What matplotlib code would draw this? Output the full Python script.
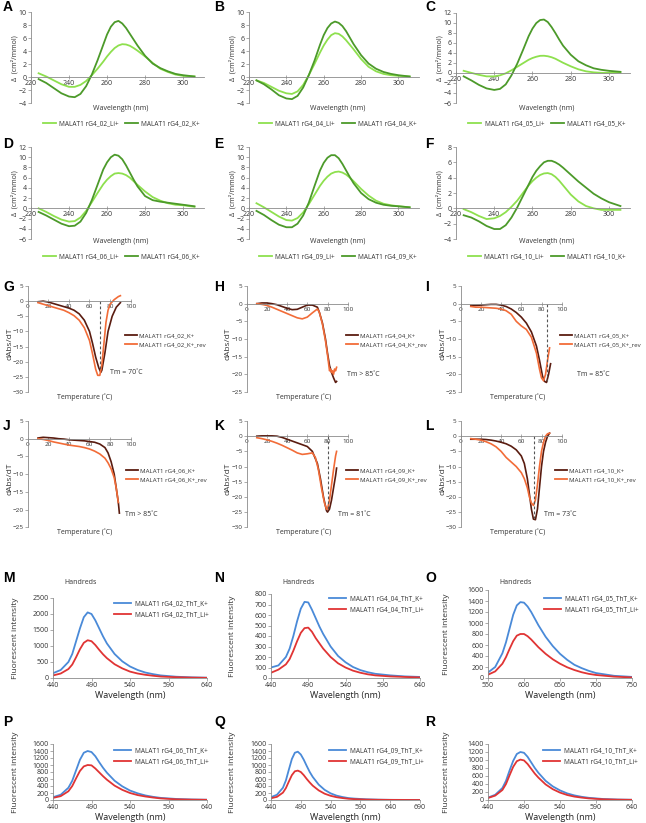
import matplotlib
matplotlib.use("Agg")
import matplotlib.pyplot as plt
from matplotlib.lines import Line2D

W, H = 646, 823
plt.rcParams['font.family'] = ['Open Sans', 'DejaVu Sans']

# ---------------- DATA ----------------
# CD spectra (panels A-F)
cd_wl = [224, 228, 232, 236, 240, 243, 246, 249, 252, 255, 258, 260, 262, 264, 266, 268, 270, 272, 274, 276,
         280, 284, 288, 292, 296, 300, 306]
cd_ids = ["02", "04", "05", "06", "09", "10"]
cd_li = {
    "02": [0.6, 0.1, -0.5, -1.1, -1.5, -1.5, -1.2, -0.6, 0.3, 1.3, 2.4, 3.2, 3.9, 4.5, 4.9, 5.1, 5.05, 4.85, 4.5, 4.1, 3.2, 2.2, 1.3, 0.8, 0.4, 0.2, 0.1],
    "04": [-0.5, -0.9, -1.5, -2.1, -2.5, -2.6, -2.2, -1.2, 0.3, 2.0, 3.8, 4.9, 5.8, 6.5, 6.8, 6.7, 6.3, 5.7, 5.0, 4.3, 2.8, 1.6, 0.9, 0.5, 0.3, 0.2, 0.1],
    "05": [0.4, 0.0, -0.4, -0.7, -0.7, -0.5, -0.1, 0.5, 1.2, 1.9, 2.6, 2.95, 3.2, 3.38, 3.4, 3.3, 3.1, 2.8, 2.4, 2.0, 1.3, 0.7, 0.3, 0.1, 0.0, 0.0, 0.1],
    "06": [0.0, -0.7, -1.5, -2.2, -2.6, -2.5, -1.8, -0.5, 1.2, 3.0, 4.7, 5.6, 6.3, 6.8, 6.9, 6.8, 6.5, 6.0, 5.3, 4.6, 3.3, 2.2, 1.5, 1.0, 0.7, 0.6, 0.3],
    "09": [1.0, 0.2, -0.7, -1.6, -2.3, -2.4, -1.9, -0.8, 0.8, 2.6, 4.4, 5.4, 6.2, 6.8, 7.1, 7.2, 7.0, 6.6, 6.0, 5.3, 3.8, 2.5, 1.5, 0.9, 0.6, 0.4, 0.2],
    "10": [-0.1, -0.5, -1.0, -1.4, -1.3, -1.0, -0.5, 0.2, 1.0, 2.0, 3.0, 3.55, 4.0, 4.35, 4.55, 4.6, 4.45, 4.1, 3.6, 3.0, 1.8, 0.9, 0.3, 0.0, -0.2, -0.2, -0.2],
}
cd_k = {
    "02": [-0.3, -0.9, -1.7, -2.5, -3.0, -3.1, -2.6, -1.4, 0.4, 2.6, 5.0, 6.6, 7.8, 8.5, 8.7, 8.3, 7.6, 6.7, 5.8, 4.9, 3.3, 2.1, 1.4, 0.9, 0.5, 0.3, 0.1],
    "04": [-0.5, -1.1, -1.9, -2.8, -3.3, -3.4, -2.9, -1.6, 0.3, 2.5, 5.0, 6.5, 7.6, 8.3, 8.6, 8.4, 7.9, 7.1, 6.1, 5.1, 3.4, 2.1, 1.3, 0.8, 0.5, 0.3, 0.1],
    "05": [-0.7, -1.5, -2.4, -3.1, -3.4, -3.2, -2.3, -0.5, 1.8, 4.5, 7.3, 8.8, 9.9, 10.5, 10.6, 10.1, 9.1, 7.9, 6.6, 5.4, 3.6, 2.3, 1.5, 0.9, 0.6, 0.4, 0.2],
    "06": [-0.7, -1.4, -2.2, -3.0, -3.5, -3.4, -2.6, -0.9, 1.6, 4.6, 7.6, 9.0, 10.0, 10.5, 10.3, 9.6, 8.4, 7.0, 5.6, 4.3, 2.4, 1.6, 1.3, 1.1, 0.9, 0.7, 0.4],
    "09": [-0.5, -1.3, -2.3, -3.2, -3.7, -3.7, -3.0, -1.4, 1.1, 4.3, 7.4, 8.9, 9.9, 10.4, 10.4, 9.8, 8.7, 7.4, 6.1, 4.9, 3.0, 1.8, 1.1, 0.7, 0.5, 0.4, 0.2],
    "10": [-0.9, -1.2, -1.7, -2.3, -2.7, -2.7, -2.2, -1.2, 0.1, 1.6, 3.1, 4.1, 4.9, 5.5, 6.0, 6.2, 6.2, 6.0, 5.7, 5.3, 4.4, 3.5, 2.7, 1.9, 1.3, 0.8, 0.3],
}
cd_ylims = {"02": (-4, 10), "04": (-4, 10), "05": (-6, 12), "06": (-6, 12), "09": (-6, 12), "10": (-4, 8)}
cd_xticks = [220, 240, 260, 280, 300]

# Melting derivative curves (panels G-L)
tm_T = {
    "02": [10, 15, 20, 25, 30, 35, 40, 45, 50, 55, 60, 63, 66, 69, 71, 72, 75, 78, 82, 86, 90],
    "04": [10, 15, 20, 25, 30, 35, 40, 45, 50, 55, 60, 65, 70, 72, 75, 78, 80, 82, 84, 86, 88, 89],
    "05": [10, 15, 20, 25, 30, 35, 40, 45, 50, 55, 60, 65, 70, 75, 78, 81, 83, 85, 87, 88, 89],
    "06": [10, 15, 20, 25, 30, 35, 40, 45, 50, 55, 60, 65, 70, 75, 78, 81, 84, 86, 88, 89],
    "09": [10, 15, 20, 25, 30, 35, 40, 45, 50, 55, 60, 65, 70, 73, 76, 79, 80, 82, 84, 86, 88, 89],
    "10": [10, 15, 20, 25, 30, 35, 40, 45, 50, 55, 60, 63, 66, 68, 70, 72, 74, 76, 78, 80, 82, 84, 86, 88],
}
tm_fwd = {
    "02": [-0.2, 0.0, -0.3, -0.8, -1.3, -1.8, -2.3, -3.0, -4.2, -6.3, -10.0, -14.0, -18.5, -22.0, -23.5, -22.8, -17.0, -10.0, -5.0, -2.0, -0.5],
    "04": [0.0, 0.2, 0.2, 0.0, -0.3, -0.8, -1.3, -1.7, -1.6, -1.0, -0.4, -0.4, -1.0, -2.5, -5.5, -10.0, -14.0, -17.5, -19.5, -21.0, -22.3, -22.0],
    "05": [-0.5, -0.5, -0.4, -0.3, -0.2, -0.2, -0.4, -0.8, -1.5, -2.5, -3.8, -5.5, -8.0, -12.0, -16.0, -20.5, -22.0, -22.3, -20.0, -18.5, -17.0],
    "06": [0.2, 0.4, 0.3, 0.2, 0.0, -0.1, -0.3, -0.4, -0.5, -0.6, -0.8, -1.0, -1.5, -2.5, -4.0, -6.5, -10.0, -14.0, -18.0, -21.0],
    "09": [0.0, 0.1, 0.1, 0.1, 0.0, -0.4, -1.0, -1.6, -2.2, -2.8, -3.4, -5.0, -9.0, -14.0, -20.0, -24.5, -25.0, -24.0, -21.0, -17.0, -13.0, -10.5],
    "10": [-1.0, -1.0, -1.0, -1.1, -1.3, -1.6, -2.0, -2.5, -3.3, -4.5, -6.5, -9.0, -14.0, -19.0, -24.0, -27.3, -27.5, -24.0, -17.0, -10.0, -5.0, -2.0, 0.0, 1.0],
}
tm_T_rev = {
    "02": [10, 15, 20, 25, 30, 35, 40, 45, 50, 55, 60, 63, 66, 68, 70, 72, 74, 76, 78, 80, 84, 88, 90],
    "04": [10, 15, 20, 25, 30, 35, 40, 45, 50, 55, 60, 65, 70, 72, 75, 78, 80, 82, 83, 84, 85, 86, 87, 88, 89],
    "05": [10, 15, 20, 25, 30, 35, 40, 45, 50, 55, 60, 65, 70, 75, 78, 80, 82, 84, 86, 88],
    "06": [10, 15, 20, 25, 30, 35, 40, 45, 50, 55, 60, 65, 70, 75, 78, 81, 84, 86, 88],
    "09": [10, 15, 20, 25, 30, 35, 40, 45, 50, 55, 60, 65, 68, 71, 74, 77, 79, 80, 82, 84, 86, 88, 89],
    "10": [10, 15, 20, 25, 30, 35, 40, 45, 50, 55, 60, 63, 66, 68, 70, 72, 74, 76, 78, 80, 82, 84, 86, 88],
}
tm_rev = {
    "02": [-0.5, -1.0, -1.5, -2.0, -2.5, -3.0, -3.8, -4.8, -6.3, -8.8, -13.0, -17.5, -22.5, -24.5, -24.5, -21.0, -14.0, -7.0, -3.0, -1.0, 0.5, 1.5, 1.8],
    "04": [0.0, -0.2, -0.5, -1.0, -1.6, -2.2, -2.8, -3.4, -4.0, -4.3, -3.8, -2.6, -1.5, -2.5, -5.8, -10.5, -14.5, -19.0, -18.5, -19.5, -19.0, -20.0, -18.5, -19.0, -18.0],
    "05": [-0.8, -1.0, -1.0, -1.1, -1.2, -1.3, -1.5, -2.0, -3.0, -5.0, -6.3, -7.3, -9.5, -14.0, -18.5, -21.0, -21.8, -20.0, -16.0, -12.5],
    "06": [0.0, -0.2, -0.5, -0.9, -1.2, -1.5, -1.8, -2.0, -2.2, -2.5, -2.9, -3.5, -4.3, -5.5, -6.8, -8.5, -11.0, -14.0, -18.0],
    "09": [-0.5, -0.8, -1.2, -1.7, -2.3, -3.0, -3.8, -4.6, -5.5, -6.0, -5.8, -5.5, -7.0, -11.0, -17.0, -22.0, -24.0, -24.0, -21.0, -16.0, -11.0, -6.5, -5.0],
    "10": [-0.8, -1.0, -1.3, -1.8, -2.5, -3.5, -5.0, -7.0, -8.5, -10.0, -12.0, -14.0, -17.0, -20.0, -22.0, -22.8, -21.0, -16.0, -10.0, -5.0, -2.0, 0.0, 0.8, 1.0],
}
tm_ylims = {"02": (-30, 5), "04": (-25, 5), "05": (-25, 5), "06": (-25, 5), "09": (-30, 5), "10": (-30, 5)}
tm_dash = {"02": (70, -23.0), "05": (85, -22.0), "09": (80.5, -24.5), "10": (73, -27.0)}
tm_text = {"02": "Tm = 70\u02daC", "04": "Tm > 85\u02daC", "05": "Tm = 85\u02daC", "06": "Tm > 85\u02daC",
           "09": "Tm = 81\u02daC", "10": "Tm = 73\u02daC"}
tm_xticks = [0, 20, 40, 60, 80, 100]

# ThT fluorescence (panels M-R)
fl_wl = {
    "02": [440, 450, 460, 465, 470, 475, 480, 485, 490, 495, 500, 505, 510, 520, 530, 540, 550, 560, 570, 580, 600, 620, 640],
    "04": [440, 450, 460, 465, 470, 475, 480, 485, 490, 495, 500, 505, 510, 520, 530, 540, 550, 560, 570, 580, 600, 620, 640],
    "05": [550, 560, 570, 575, 580, 585, 590, 595, 600, 605, 610, 615, 620, 630, 640, 650, 660, 670, 680, 690, 700, 725, 750],
    "06": [440, 450, 460, 465, 470, 475, 480, 485, 490, 495, 500, 505, 510, 520, 530, 540, 550, 560, 570, 580, 600, 620, 640],
    "09": [440, 450, 460, 465, 470, 475, 480, 485, 490, 495, 500, 505, 510, 520, 530, 540, 550, 560, 570, 580, 600, 620, 640, 660, 690],
    "10": [440, 450, 460, 465, 470, 475, 480, 485, 490, 495, 500, 505, 510, 520, 530, 540, 550, 560, 570, 580, 600, 620, 640],
}
fl_k = {
    "02": [150, 250, 500, 750, 1150, 1550, 1900, 2050, 2000, 1800, 1550, 1300, 1080, 750, 520, 360, 250, 170, 120, 80, 40, 20, 10],
    "04": [100, 120, 200, 280, 400, 540, 660, 725, 720, 650, 570, 490, 420, 300, 210, 150, 105, 75, 55, 40, 25, 15, 10],
    "05": [100, 200, 450, 650, 900, 1150, 1320, 1380, 1370, 1300, 1200, 1080, 960, 750, 580, 440, 330, 240, 180, 130, 90, 40, 20],
    "06": [80, 150, 350, 550, 850, 1150, 1350, 1400, 1370, 1250, 1080, 920, 780, 550, 390, 270, 190, 130, 90, 60, 30, 15, 8],
    "09": [80, 150, 350, 560, 870, 1170, 1350, 1380, 1300, 1150, 970, 800, 660, 440, 290, 190, 125, 85, 55, 40, 20, 10, 5, 3, 0],
    "10": [60, 130, 300, 480, 740, 980, 1150, 1200, 1180, 1080, 940, 800, 680, 480, 340, 240, 165, 115, 80, 55, 25, 12, 6],
}
fl_li = {
    "02": [80, 140, 280, 420, 650, 900, 1100, 1180, 1150, 1030, 880, 740, 620, 430, 300, 200, 140, 100, 70, 45, 25, 12, 5],
    "04": [50, 80, 130, 180, 260, 350, 430, 475, 480, 440, 380, 330, 280, 200, 140, 100, 70, 50, 35, 25, 15, 10, 5],
    "05": [60, 120, 260, 380, 530, 670, 770, 800, 800, 760, 700, 630, 560, 440, 340, 260, 195, 145, 105, 75, 55, 25, 10],
    "06": [60, 110, 250, 400, 620, 830, 960, 1000, 990, 900, 790, 680, 580, 410, 290, 200, 140, 100, 70, 45, 20, 10, 5],
    "09": [50, 90, 210, 340, 530, 710, 820, 840, 800, 710, 600, 500, 410, 275, 180, 120, 80, 55, 35, 25, 12, 6, 3, 2, 0],
    "10": [50, 110, 250, 400, 620, 830, 970, 1010, 990, 900, 780, 660, 560, 390, 270, 185, 125, 85, 60, 40, 18, 8, 4],
}
fl_yticks = {"02": list(range(0, 2501, 500)), "04": list(range(0, 801, 100)), "05": list(range(0, 1601, 200)),
             "06": list(range(0, 1601, 200)), "09": list(range(0, 1601, 200)), "10": list(range(0, 1401, 200))}
fl_xticks = {"02": [440, 490, 540, 590, 640], "04": [440, 490, 540, 590, 640], "05": [550, 600, 650, 700, 750],
             "06": [440, 490, 540, 590, 640], "09": [440, 490, 540, 590, 640, 690], "10": [440, 490, 540, 590, 640]}

# ---------------- STYLE ----------------
C_LI = "#8ee04e"
C_KG = "#4c9a2a"
C_FWD = "#5a1c10"
C_REV = "#f26c38"
C_BLUE = "#4a8ad8"
C_RED = "#e03434"
AX_C = "#8a8a8a"
TXT = "#333333"
FS = 5.0
LFS = 4.7

fig = plt.figure(figsize=(W / 100, H / 100), dpi=100)


def fy(y):
    return 1 - y / H


def px_axes(l, t, r, b):
    return fig.add_axes([l / W, 1 - b / H, (r - l) / W, (b - t) / H])


def base_style(ax, fs=FS):
    for s in ("top", "right"):
        ax.spines[s].set_visible(False)
    for s in ("left", "bottom"):
        ax.spines[s].set_color(AX_C)
        ax.spines[s].set_linewidth(0.6)
    ax.tick_params(length=2, width=0.5, color=AX_C, labelsize=fs, labelcolor=TXT, pad=1)
    ax.patch.set_alpha(0)


def letter(x, y, s):
    fig.text(x / W, fy(y), s, fontsize=10, fontweight="bold", family="Liberation Sans",
             ha="left", va="center", color="black")


def vtext(x, y, s, fs):
    fig.text(x / W, fy(y), s, fontsize=fs, color=TXT, rotation=90, ha="center", va="center")


# ---- CD panels ----
cd_cols = [(31, 204), (249, 419), (456, 630)]
cd_rows = [(12.5, 103, 108, 124), (147, 239, 241, 257)]
cd_letters = ["A", "B", "C", "D", "E", "F"]
for i, key in enumerate(cd_ids):
    r, c = divmod(i, 3)
    l, rr = cd_cols[c]
    t, b, xl_y, lg_y = cd_rows[r]
    ax = px_axes(l, t, rr, b)
    base_style(ax)
    ax.plot(cd_wl, cd_li[key], color=C_LI, lw=1.3)
    ax.plot(cd_wl, cd_k[key], color=C_KG, lw=1.3)
    ax.set_xlim(220, 311)
    lo, hi = cd_ylims[key]
    ax.set_ylim(lo, hi)
    ax.set_yticks(list(range(lo, hi + 1, 2)))
    ax.set_xticks(cd_xticks)
    ax.spines["bottom"].set_position(("data", 0))
    ax.tick_params(axis="x", direction="inout", length=2.5)
    vtext(l - 16, (t + b) / 2, "\u0394  (cm\u00b2/mmol)", FS)
    fig.text((l + rr) / 2 / W + 0.005, fy(xl_y), "Wavelength (nm)", fontsize=FS, color=TXT,
             ha="center", va="center")
    hs = [Line2D([], [], color=C_LI, lw=1.3), Line2D([], [], color=C_KG, lw=1.3)]
    fig.legend(hs, [f"MALAT1 rG4_{key}_Li+", f"MALAT1 rG4_{key}_K+"], ncol=2, frameon=False,
               fontsize=LFS, loc="center", bbox_to_anchor=((l + rr) / 2 / W + 0.006, fy(lg_y)),
               handlelength=2.0, columnspacing=1.0, handletextpad=0.5, labelcolor=TXT)
    letter([3, 214, 425][c], [7, 144][r], cd_letters[i])

# ---- Melting panels ----
tm_cols = [(27.7, 103), (246.7, 101), (460.7, 101)]
tm_rows = [(286, 392, 397), (421, 527.3, 532)]
tm_letters = ["G", "H", "I", "J", "K", "L"]
tm_txt_pos = {"02": (110, 372), "04": (347, 374), "05": (577, 375), "06": (125, 515), "09": (338, 514), "10": (544, 514)}
tm_leg_x = {"02": 125, "04": 346, "05": 560, "06": 126, "09": 346, "10": 555}
tm_ylab_x = [10, 228, 443]
for i, key in enumerate(cd_ids):
    r, c = divmod(i, 3)
    l, wd = tm_cols[c]
    t, b, xl_y = tm_rows[r]
    ax = px_axes(l, t, l + wd, b)
    base_style(ax, fs=4.6)
    ax.plot(tm_T[key], tm_fwd[key], color=C_FWD, lw=1.2)
    ax.plot(tm_T_rev[key], tm_rev[key], color=C_REV, lw=1.2)
    if key in tm_dash:
        xd, yd = tm_dash[key]
        ax.plot([xd, xd], [0, yd], color="#555555", lw=0.8, ls=(0, (2.5, 2)))
    ax.set_xlim(0, 100)
    ax.set_ylim(*tm_ylims[key])
    ax.set_yticks(list(range(tm_ylims[key][0], 6, 5)))
    ax.set_xticks(tm_xticks)
    ax.spines["bottom"].set_position(("data", 0))
    ax.tick_params(axis="x", direction="inout", length=2.5)
    vtext(tm_ylab_x[c], t + 58, "dAbs/dT", 6)
    fig.text((l + 57) / W, fy(xl_y), "Temperature (\u02daC)", fontsize=FS, color=TXT, ha="center", va="center")
    tx, ty = tm_txt_pos[key]
    fig.text(tx / W, fy(ty), tm_text[key], fontsize=FS, color=TXT, ha="left", va="center")
    hs = [Line2D([], [], color=C_FWD, lw=1.3), Line2D([], [], color=C_REV, lw=1.3)]
    fig.legend(hs, [f"MALAT1 rG4_{key}_K+", f"MALAT1 rG4_{key}_K+_rev"], frameon=False, fontsize=4.4,
               loc="upper left", bbox_to_anchor=(tm_leg_x[key] / W, fy(t + 47)), borderaxespad=0,
               borderpad=0, handlelength=1.9, handletextpad=0.45, labelspacing=0.6, labelcolor=TXT)
    letter([3, 214, 425][c], [287, 426][r], tm_letters[i])

# ---- Fluorescence panels ----
fl_boxes = {"02": (53, 598, 207, 678), "04": (271, 594, 420, 678), "05": (488, 590, 632, 678),
            "06": (53, 744, 207, 800), "09": (271, 744, 420, 800), "10": (488, 744, 632, 800)}
fl_leg = {"02": (114, 600), "04": (329, 595), "05": (544, 595), "06": (114, 747), "09": (329, 747), "10": (543, 747)}
fl_letters = ["M", "N", "O", "P", "Q", "R"]
fl_ylab_x = [16, 232, 447]
for i, key in enumerate(cd_ids):
    r, c = divmod(i, 3)
    l, t, rr, b = fl_boxes[key]
    ax = px_axes(l, t, rr, b)
    base_style(ax)
    ax.plot(fl_wl[key], fl_k[key], color=C_BLUE, lw=1.3)
    ax.plot(fl_wl[key], fl_li[key], color=C_RED, lw=1.3)
    xt = fl_xticks[key]
    ax.set_xlim(xt[0], xt[-1])
    ax.set_ylim(0, fl_yticks[key][-1])
    ax.set_yticks(fl_yticks[key])
    ax.set_xticks(xt)
    ax.set_xlabel("Wavelength (nm)", fontsize=6.5, color="#222222", labelpad=1)
    vtext(fl_ylab_x[c], (t + b) / 2, "Fluorescent intensity", 6)
    if r == 0:
        fig.text((l + 11) / W, fy(582), "Handreds", fontsize=FS, color=TXT, ha="left", va="center")
    hs = [Line2D([], [], color=C_BLUE, lw=1.3), Line2D([], [], color=C_RED, lw=1.3)]
    lx, ly = fl_leg[key]
    fig.legend(hs, [f"MALAT1 rG4_{key}_ThT_K+", f"MALAT1 rG4_{key}_ThT_Li+"], frameon=False, fontsize=LFS,
               loc="upper left", bbox_to_anchor=(lx / W, fy(ly)), borderaxespad=0, borderpad=0,
               handlelength=2.6, handletextpad=0.6, labelspacing=0.6, labelcolor=TXT)
    letter([3, 214, 425][c], [578, 722][r], fl_letters[i])

fig.savefig("out.png", dpi=100)
